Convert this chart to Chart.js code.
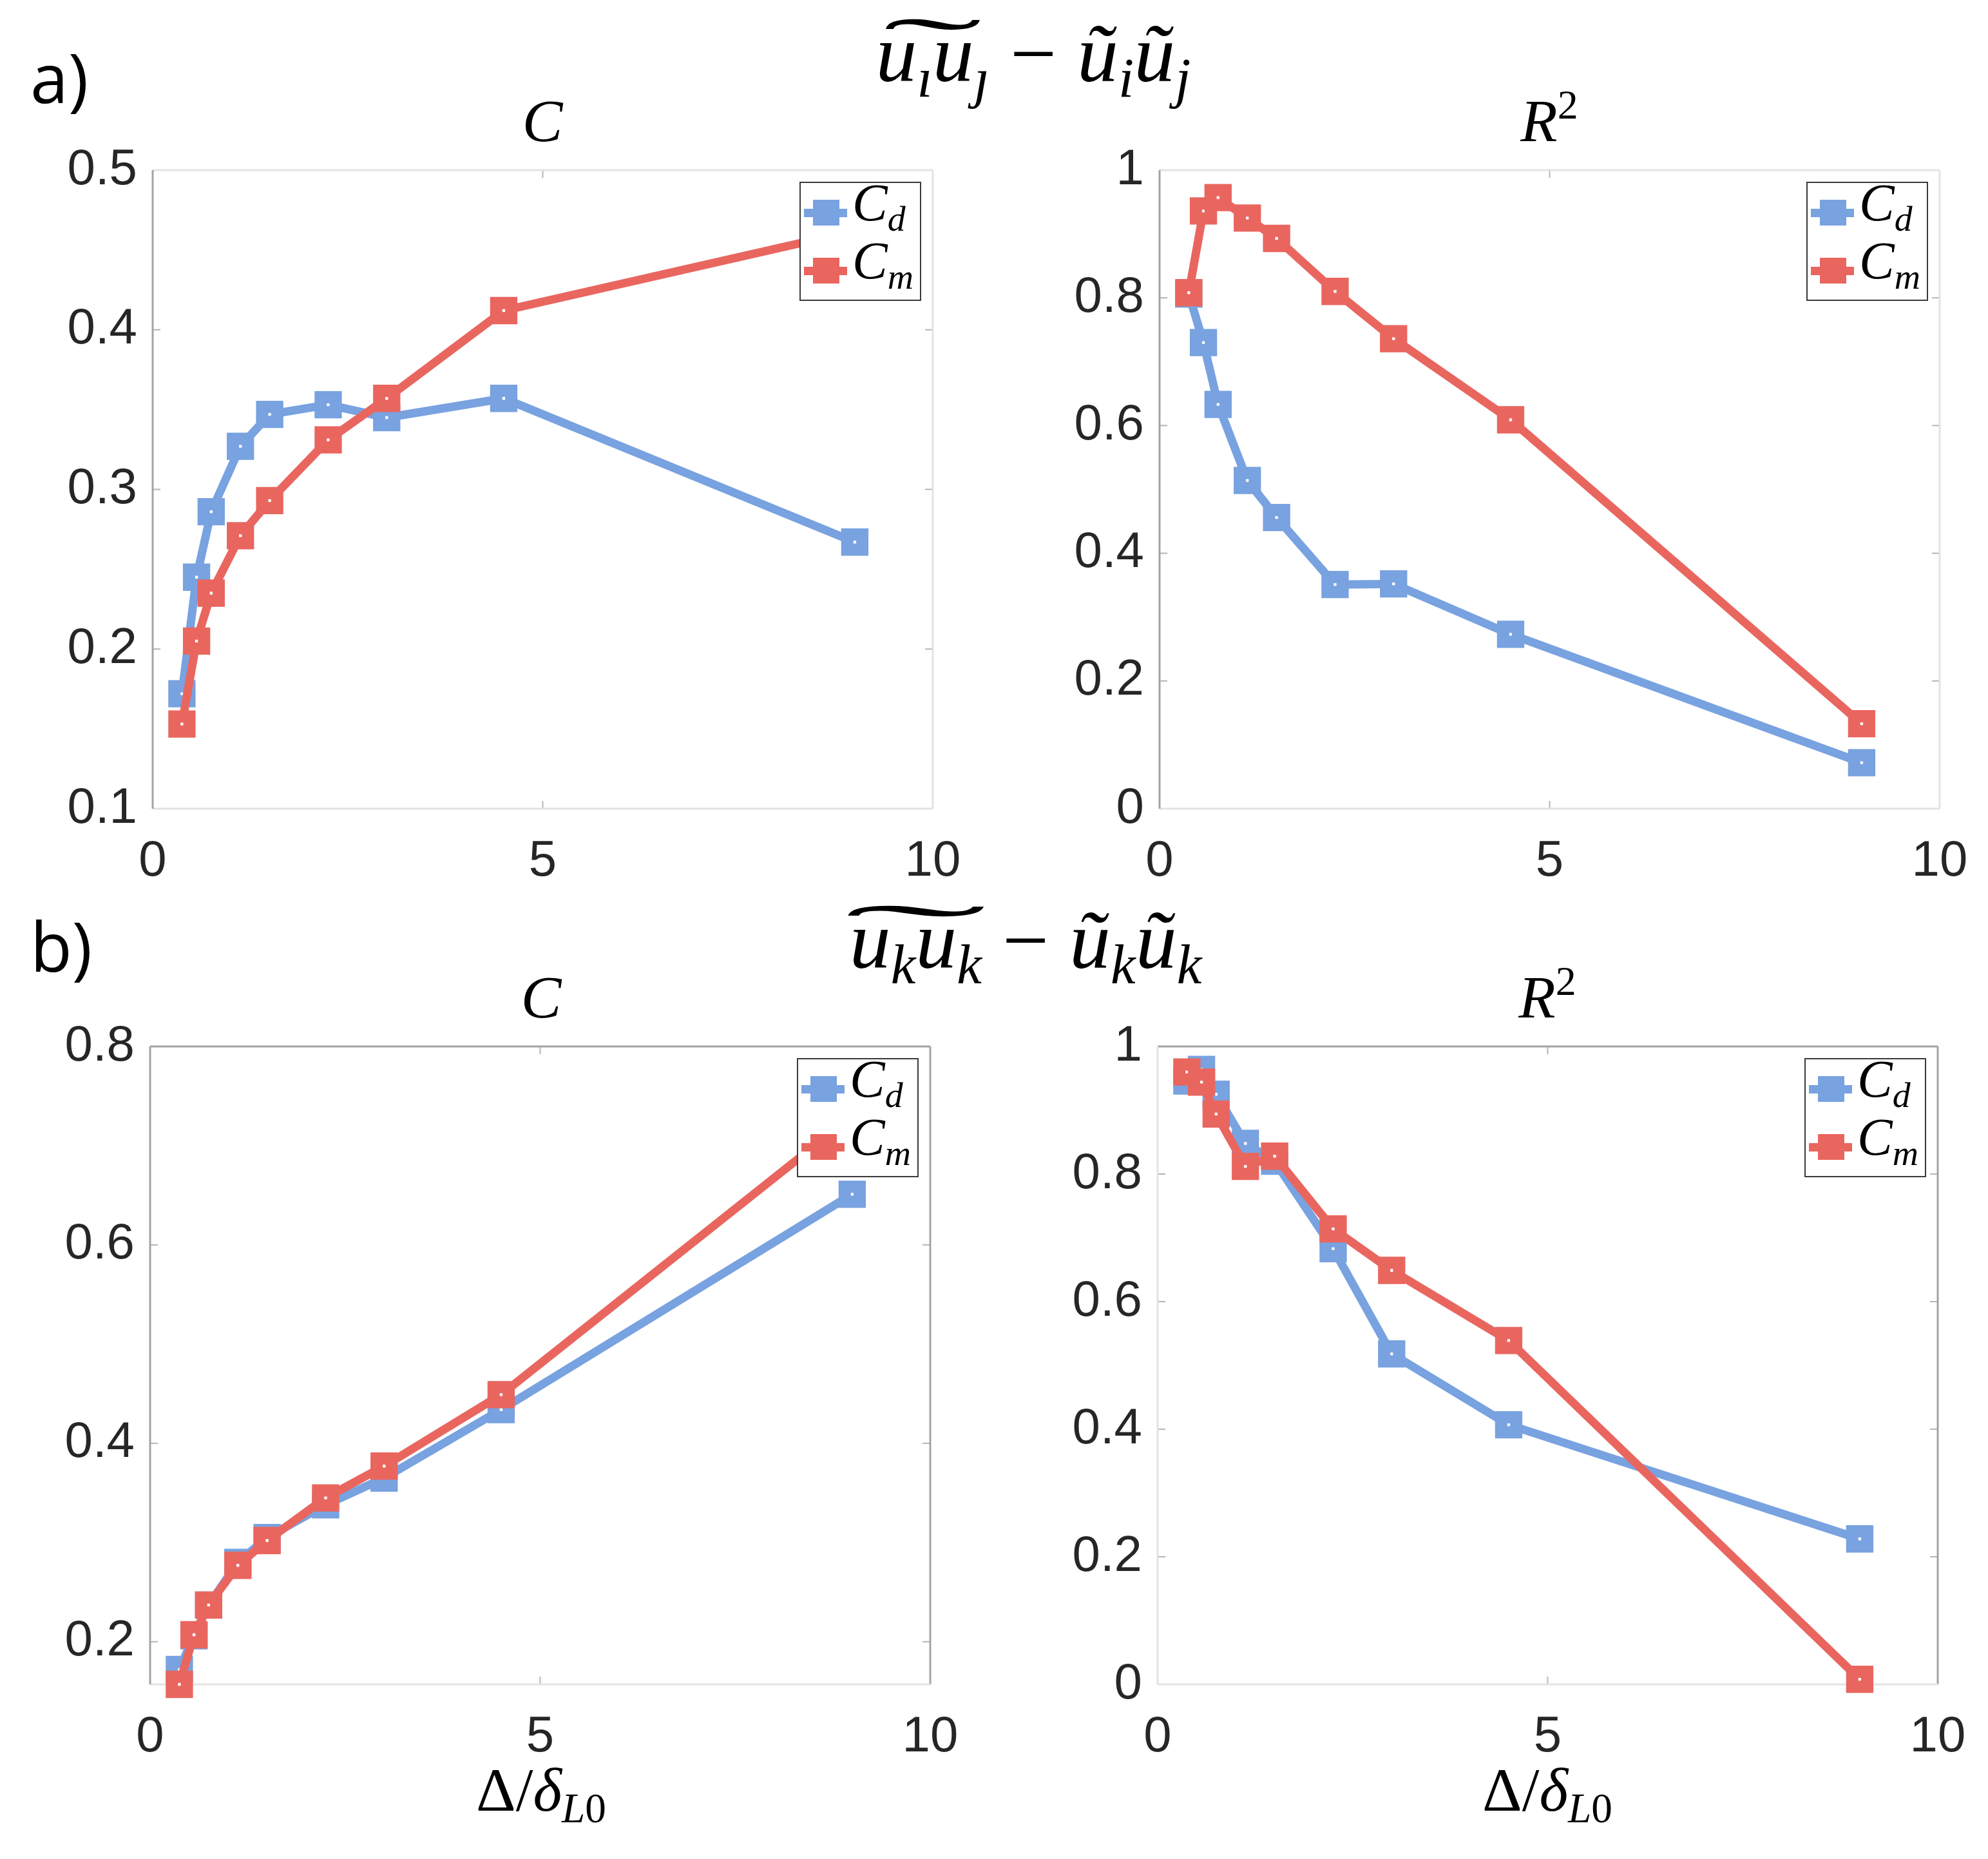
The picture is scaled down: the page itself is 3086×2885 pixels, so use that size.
<!DOCTYPE html>
<html>
<head>
<meta charset="utf-8">
<title>C and R2 vs filter width</title>
<script src="https://cdn.jsdelivr.net/npm/chart.js@4.4.1/dist/chart.umd.min.js"></script>
<style>
  html, body { margin: 0; padding: 0; background: #fff; }
  body { width: 3086px; height: 2885px; position: relative; overflow: hidden; }
  canvas { position: absolute; }
  .t { position: absolute; white-space: nowrap; line-height: 1; color: #000; }
  .c { transform: translateX(-50%); }
  .m { font-family: "Liberation Serif", "DejaVu Serif", serif; font-style: italic; }
  .up { font-style: normal; }
  .lbl { font-family: "Open Sans", sans-serif; font-size: 106px; }
  .m sub { font-size: 0.68em; vertical-align: -0.28em; line-height: 0; }
  .m sup { font-size: 0.68em; vertical-align: 0.55em; line-height: 0; font-style: normal; }
  .wt { position: relative; display: inline-block; }
  .tl { position: absolute; left: 0; right: 0; text-align: center; font-style: normal; }
  .lg { position: absolute; width: 185px; height: 181px; border: 2px solid #3a3a3a; background: #fff; }
  .row { position: absolute; left: 0; width: 185px; height: 0; }
  .ln { position: absolute; left: 5px; width: 67px; height: 13px; top: -6px; }
  .mk { position: absolute; left: 19px; width: 41px; height: 40px; top: -20px; }
  .lt { position: absolute; left: 80px; top: -56px; font-size: 82px; line-height: 1; }
</style>
</head>
<body>

<div class="t lbl" style="left:47px; top:66px;">a)</div>
<div class="t lbl" style="left:47px; top:1414px;">b)</div>

<div class="t c m" style="left:1604px; top:19px; font-size:128px;">
  <span class="wt">u<sub>ı</sub>u<sub>ȷ</sub><span class="tl" style="top:-0.08em; transform:scaleX(3.6);">˜</span></span>
  <span class="up">−</span> ũ<sub>i</sub>ũ<sub>j</sub>
</div>
<div class="t c m" style="left:1592px; top:1395px; font-size:128px;">
  <span class="wt">u<sub>k</sub>u<sub>k</sub><span class="tl" style="top:-0.08em; transform:scaleX(5.2);">˜</span></span>
  <span class="up">−</span> ũ<sub>k</sub>ũ<sub>k</sub>
</div>

<div class="t c m" style="left:842px; top:140px; font-size:94px;">C</div>
<div class="t c m" style="left:2405px; top:140px; font-size:94px;">R<sup>2</sup></div>
<div class="t c m" style="left:840px; top:1500px; font-size:94px;">C</div>
<div class="t c m" style="left:2402px; top:1500px; font-size:94px;">R<sup>2</sup></div>

<div class="t c m" style="left:840px; top:2730px; font-size:96px;"><span class="up">Δ/</span>δ<sub>L<span class="up">0</span></sub></div>
<div class="t c m" style="left:2402px; top:2730px; font-size:96px;"><span class="up">Δ/</span>δ<sub>L<span class="up">0</span></sub></div>

<script>
// filter width Δ/δL0 (same for every panel)
const deltaRatio = [0.375, 0.5625, 0.75, 1.125, 1.5, 2.25, 3, 4.5, 9];
const xTicks = [0, 5, 10];

// a) C
const aC_Cd = [0.172, 0.245, 0.286, 0.327, 0.347, 0.353, 0.345, 0.357, 0.267];
const aC_Cm = [0.153, 0.205, 0.235, 0.271, 0.293, 0.331, 0.357, 0.412, 0.462];
const aCyTicks = [0.1, 0.2, 0.3, 0.4, 0.5];

// a) R2
const aR_Cd = [0.806, 0.730, 0.633, 0.514, 0.456, 0.351, 0.352, 0.273, 0.072];
const aR_Cm = [0.808, 0.936, 0.957, 0.925, 0.893, 0.810, 0.736, 0.609, 0.133];

// b) C
const bC_Cd = [0.172, 0.206, 0.237, 0.280, 0.305, 0.338, 0.365, 0.434, 0.651];
const bC_Cm = [0.157, 0.207, 0.237, 0.277, 0.302, 0.345, 0.377, 0.449, 0.730];
const bCyTicks = [0.2, 0.4, 0.6, 0.8];

// b) R2
const bR_Cd = [0.946, 0.964, 0.925, 0.848, 0.820, 0.683, 0.518, 0.407, 0.228];
const bR_Cm = [0.960, 0.944, 0.894, 0.812, 0.828, 0.714, 0.649, 0.539, 0.008];
const r2yTicks = [0, 0.2, 0.4, 0.6, 0.8, 1];

const seriesSubs = ['d', 'm'];

const BLUE = '#78A2E0';
const RED = '#E9665F';
const DARK = '#a3a3a3';
const LIGHT = '#e3e3e3';

// margins round the plot box inside each canvas
const L = 236, T = 40, R = 60, B = 140;

const panels = [
    { left: 237, top: 264, w: 1211, h: 991, yMin: 0.1, yMax: 0.5, yTicks: aCyTicks, cd: aC_Cd, cm: aC_Cm,
      edges: { left: DARK, top: LIGHT, right: LIGHT, bottom: LIGHT } },
    { left: 1800, top: 264, w: 1211, h: 991, yMin: 0, yMax: 1, yTicks: r2yTicks, cd: aR_Cd, cm: aR_Cm,
      edges: { left: DARK, top: LIGHT, right: LIGHT, bottom: LIGHT } },
    { left: 233, top: 1624, w: 1211, h: 990, yMin: 0.157, yMax: 0.8, yTicks: bCyTicks, cd: bC_Cd, cm: bC_Cm,
      edges: { left: DARK, top: DARK, right: DARK, bottom: LIGHT } },
    { left: 1797, top: 1624, w: 1211, h: 990, yMin: 0, yMax: 1, yTicks: r2yTicks, cd: bR_Cd, cm: bR_Cm,
      edges: { left: LIGHT, top: DARK, right: DARK, bottom: LIGHT } }
];

// box and inward tick marks like a matlab axes
const axesBox = {
    id: 'axesBox',
    beforeDatasetsDraw(chart, args, opts) {
        const { ctx, chartArea: a, scales } = chart;
        const seg = (x1, y1, x2, y2) => { ctx.beginPath(); ctx.moveTo(x1, y1); ctx.lineTo(x2, y2); ctx.stroke(); };
        ctx.save();
        ctx.strokeStyle = '#b5b5b5';
        ctx.lineWidth = 2;
        scales.x.ticks.forEach(t => {
            const px = scales.x.getPixelForValue(t.value);
            seg(px, a.bottom, px, a.bottom - 12);
            seg(px, a.top, px, a.top + 12);
        });
        scales.y.ticks.forEach(t => {
            const py = scales.y.getPixelForValue(t.value);
            seg(a.left, py, a.left + 12, py);
            seg(a.right, py, a.right - 12, py);
        });
        ctx.lineWidth = 3;
        ctx.strokeStyle = opts.edges.top; seg(a.left, a.top, a.right, a.top);
        ctx.strokeStyle = opts.edges.right; seg(a.right, a.top, a.right, a.bottom);
        ctx.strokeStyle = opts.edges.bottom; seg(a.left, a.bottom, a.right, a.bottom);
        ctx.strokeStyle = opts.edges.left; seg(a.left, a.top, a.left, a.bottom);
        ctx.restore();
    }
};

// matlab 's' markers with a thick edge: nearly solid, tiny white centre
function series(values, color, order) {
    return {
        data: values.map((v, i) => ({ x: deltaRatio[i], y: v })),
        borderColor: color,
        backgroundColor: color,
        borderWidth: 13,
        pointStyle: 'rect',
        pointRadius: 16.5,
        pointBorderWidth: 19,
        pointBackgroundColor: '#fff',
        pointBorderColor: color,
        tension: 0,
        clip: false,
        order: order
    };
}

function makeLegend(p) {
    const box = document.createElement('div');
    box.className = 'lg';
    box.style.left = (p.left + p.w - 18 - 189) + 'px';
    box.style.top = (p.top + 18) + 'px';
    [BLUE, RED].forEach((color, i) => {
        const row = document.createElement('div');
        row.className = 'row';
        row.style.top = (46 + i * 90) + 'px';
        row.innerHTML = '<span class="ln" style="background:' + color + '"></span>' +
            '<span class="mk" style="background:' + color + '"></span>' +
            '<span class="lt m">C<sub>' + seriesSubs[i] + '</sub></span>';
        box.appendChild(row);
    });
    document.body.appendChild(box);
}

// drop the label overhang padding so the plot box lands where it should
function noPad(s) {
    s.paddingTop = 0;
    s.paddingBottom = 0;
    s.paddingLeft = 0;
    s.paddingRight = 0;
}

panels.forEach(p => {
    const canvas = document.createElement('canvas');
    canvas.width = p.w + L + R;
    canvas.height = p.h + T + B;
    canvas.style.left = (p.left - L) + 'px';
    canvas.style.top = (p.top - T) + 'px';
    canvas.style.width = canvas.width + 'px';
    canvas.style.height = canvas.height + 'px';
    document.body.appendChild(canvas);

    const tickFont = { family: '"Liberation Sans", Arial, sans-serif', size: 78 };

    new Chart(canvas.getContext('2d'), {
        type: 'line',
        data: { datasets: [series(p.cd, BLUE, 1), series(p.cm, RED, 0)] },
        options: {
            responsive: false,
            animation: false,
            devicePixelRatio: 1,
            events: [],
            layout: { padding: { top: T, right: R, left: 0, bottom: 0 }, autoPadding: false },
            plugins: { legend: { display: false }, tooltip: { enabled: false }, axesBox: { edges: p.edges } },
            scales: {
                x: {
                    type: 'linear', min: 0, max: 10,
                    grid: { display: false, drawTicks: false },
                    border: { display: false },
                    ticks: { font: tickFont, color: '#262626', padding: 36, maxRotation: 0, callback: v => String(v) },
                    afterBuildTicks: s => { s.ticks = xTicks.map(v => ({ value: v })); },
                    afterFit: s => { s.height = B; noPad(s); }
                },
                y: {
                    type: 'linear', min: p.yMin, max: p.yMax,
                    grid: { display: false, drawTicks: false },
                    border: { display: false },
                    ticks: { font: tickFont, color: '#262626', padding: 24, callback: v => String(v) },
                    afterBuildTicks: s => { s.ticks = p.yTicks.map(v => ({ value: v })); },
                    afterFit: s => { s.width = L; noPad(s); }
                }
            }
        },
        plugins: [axesBox]
    });

    makeLegend(p);
});
</script>
</body>
</html>
